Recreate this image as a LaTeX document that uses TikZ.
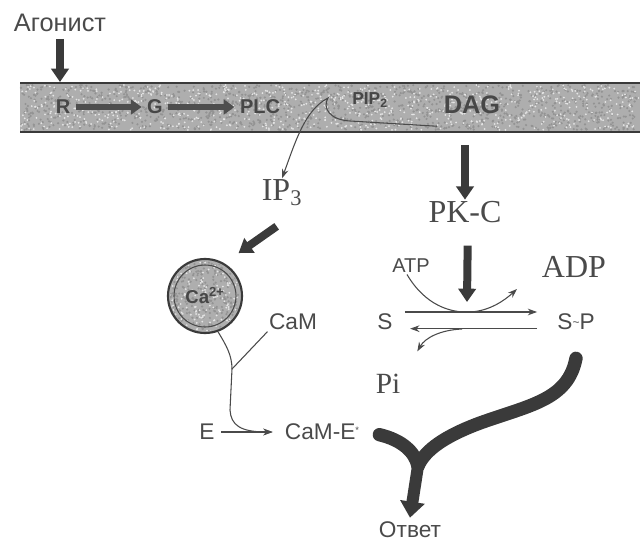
\documentclass[tikz,border=0pt]{standalone}
\usepackage{fontspec}
\setmainfont{Liberation Serif}
\setsansfont{Liberation Sans}
\usetikzlibrary{arrows.meta}
\definecolor{ink}{HTML}{3A3A3A}
\definecolor{txt}{HTML}{4A4A4A}
\definecolor{memb}{HTML}{AEAEAE}
\tikzset{
  fat/.style={draw=ink, line width=6pt, -{Triangle[length=10pt,width=13pt]}},
  fatin/.style={draw=ink!90, line width=5pt, -{Triangle[length=8pt,width=11pt]}},
  thinln/.style={draw=txt, line width=0.8pt},
  tip/.style={-{Stealth[length=7pt,width=5pt]}},
  sanslab/.style={font=\sffamily\fontsize{17}{17}\selectfont, text=txt, inner sep=1pt},
  serlab/.style={font=\fontsize{24}{24}\selectfont, text=txt, inner sep=1pt},
  memlab/.style={font=\sffamily\bfseries\fontsize{15}{15}\selectfont, text=black!72, inner sep=1pt},
}
\begin{document}
\begin{tikzpicture}[x=0.75pt,y=-0.75pt]
\useasboundingbox (0,0) rectangle (640,546);
% membrane
\fill[memb] (20,83) rectangle (640,132);
\pgfmathsetseed{11}
\foreach \i in {1,...,1300}{
  \pgfmathsetmacro\xx{21+618*rnd}
  \pgfmathsetmacro\yy{85+45*rnd}
  \fill[gray!85] (\xx,\yy) circle[radius=1.2];
}
\foreach \i in {1,...,800}{
  \pgfmathsetmacro\xx{21+618*rnd}
  \pgfmathsetmacro\yy{85+45*rnd}
  \fill[white!80!gray] (\xx,\yy) circle[radius=1.0];
}
\draw[ink, line width=2pt] (20,83) -- (640,83);
\draw[ink, line width=2.2pt] (20,132) -- (640,132);

% agonist
\node[sanslab, font=\sffamily\fontsize{19}{19}\selectfont] (agon) at (60,23) {Агонист};
\coordinate (agend) at (60,82);
\draw[fat] (agon.south) ++(0,-4pt) -- (agend);

% membrane labels
\node[memlab] (R) at (63,107) {R};
\node[memlab] (G) at (155,107) {G};
\node[memlab] (PLC) at (260,107) {PLC};
\node[memlab, font=\sffamily\bfseries\fontsize{13}{13}\selectfont] (PIP) at (370,100) {PIP\textsubscript{2}};
\node[memlab, font=\sffamily\bfseries\fontsize{19}{19}\selectfont] (DAG) at (472,105) {DAG};
\draw[fatin] (R.east) ++(3pt,0) -- ([xshift=-3pt]G.west);
\draw[fatin] (G.east) ++(3pt,0) -- ([xshift=-3pt]PLC.west);

% IP3
\node[serlab] (IP3) at (282,193) {IP\textsubscript{3}};
\draw[thinln, tip] ([xshift=-4pt,yshift=-8pt]DAG.south west) -- (350,121)
  .. controls (330,120) and (322,108) .. (328,98)
  .. controls (305,110) and (296,140) .. (IP3.north);

% Ca store
\node[circle, draw=ink, line width=1.6pt, minimum size=74*0.75pt, fill=memb] (Ca) at (205,296) {};
\begin{scope}
\clip (205,296) circle[radius=35];
\foreach \i in {1,...,300}{
  \pgfmathsetmacro\xx{168+74*rnd}
  \pgfmathsetmacro\yy{259+74*rnd}
  \fill[gray!85] (\xx,\yy) circle[radius=1.2];
}
\foreach \i in {1,...,180}{
  \pgfmathsetmacro\xx{168+74*rnd}
  \pgfmathsetmacro\yy{259+74*rnd}
  \fill[white!80!gray] (\xx,\yy) circle[radius=1.0];
}
\end{scope}
\draw[txt, line width=0.8pt] (205,296) circle[radius=31];
\node[memlab, font=\sffamily\bfseries\fontsize{14}{14}\selectfont] (Calab) at (Ca) {Ca\textsuperscript{2+}};
\draw[fat] ([xshift=-4pt,yshift=-14pt]IP3.south) -- ([xshift=5pt,yshift=12pt]Ca.45);

% CaM branch
\node[sanslab] (CaM) at (293,322) {CaM};
\node[sanslab] (E) at (207,432) {E};
\node[sanslab] (CaME) at (322,432) {CaM-E\raisebox{0.5ex}{\scriptsize*}};
\coordinate (J) at (232,369);
\draw[thinln] (Ca.-70) .. controls (226,345) and (232,355) .. (J);
\draw[thinln] (CaM.south west) -- (J);
\draw[thinln, tip] (J) -- (230,410) .. controls (231,425) and (240,432) .. ([xshift=-8pt]CaME.west);
\draw[thinln, tip] (E.east) ++(4pt,0) -- ([xshift=-8pt]CaME.west);

% PK-C branch
\node[serlab] (PKC) at (465,212) {PK-C};
\draw[fat] ([yshift=-22pt]DAG.south -| PKC.north) -- (PKC.north);
\node[sanslab, font=\sffamily\fontsize{15}{15}\selectfont] (ATP) at (411,266) {ATP};
\node[serlab] (ADP) at (574,267) {ADP};
\node[sanslab] (S) at (385,322) {S};
\node[sanslab] (SP) at (576,322) {S\raisebox{0.3ex}{\small\textasciitilde}P};
\coordinate (hit) at (467,302);
\draw[fat] ([xshift=2pt]PKC.south) ++(0,-16pt) -- (hit);
\draw[thinln, tip] ([xshift=8pt,yshift=7.5pt]S.east) -- ([xshift=-14pt,yshift=7.5pt]SP.west);
\draw[thinln, tip] ([xshift=-14pt,yshift=-5pt]SP.west) -- ([xshift=12pt,yshift=-5pt]S.east);
\draw[thinln, tip] ([xshift=-3pt]ATP.south) .. controls (425,305) and (450,313) .. (470,312)
  .. controls (490,311) and (505,300) .. (517,289);
\node[serlab, font=\fontsize{22}{22}\selectfont] (Pi) at (388,384) {Pi};
\draw[thinln, tip] (462,329) .. controls (440,330) and (425,338) .. ([xshift=22pt,yshift=16pt]Pi.north);

% response
\node[sanslab] (Otv) at (410,530) {Ответ};
\coordinate (M) at (418,466);
\draw[ink, line width=10pt, line cap=round] ([yshift=-20pt]SP.south) .. controls (568,400) and (530,405) .. (480,423)
  .. controls (445,436) and (425,450) .. (M);
\draw[ink, line width=10pt, line cap=round] ([xshift=14pt,yshift=-2pt]CaME.east) .. controls (402,440) and (415,452) .. (M);
\draw[ink, line width=9pt, -{Triangle[length=12pt,width=18pt]}] (M) -- ([yshift=2pt]Otv.north);
\end{tikzpicture}
\end{document}
